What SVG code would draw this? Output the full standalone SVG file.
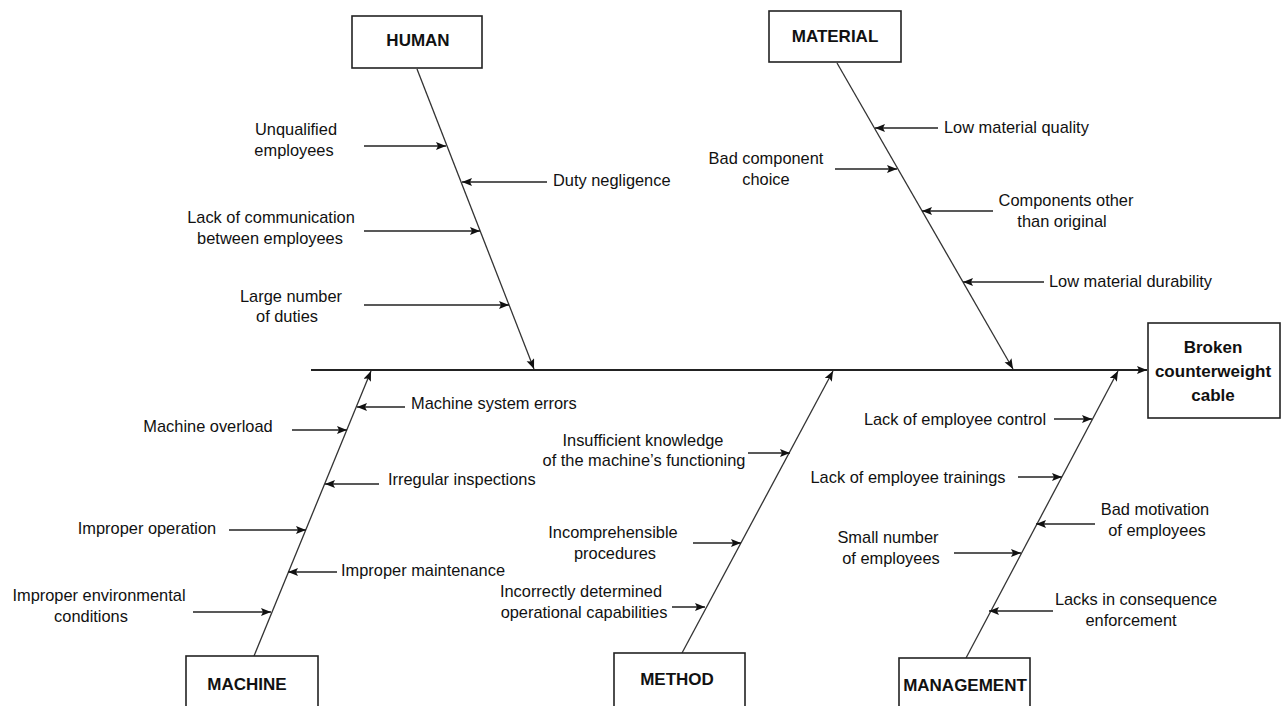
<svg xmlns="http://www.w3.org/2000/svg" width="1283" height="706" viewBox="0 0 1283 706">
<style>
.box{fill:#fff;stroke:#222;stroke-width:1.6}
.hd{font-family:"Liberation Sans",Arial,sans-serif;font-weight:bold;font-size:17px;fill:#111;text-anchor:middle}
.lb{font-family:"Liberation Sans",Arial,sans-serif;font-size:16.4px;fill:#111}
.m{text-anchor:middle}
.bone{stroke:#333;stroke-width:1.3;fill:none}
.spine{stroke:#222;stroke-width:2;fill:none}
.ar{stroke:#222;stroke-width:1.6;fill:none;marker-end:url(#ah)}
.bn{marker-end:url(#ah)}
</style>
<defs>
<marker id="ah" markerUnits="userSpaceOnUse" markerWidth="11" markerHeight="9" refX="10" refY="4" orient="auto">
<path d="M0,0 L10,4 L0,8 L2,4 Z" fill="#111"/>
</marker>
</defs>
<rect width="1283" height="706" fill="#fff"/>
<g id="connectors">
<line class="spine bn" x1="311" y1="370" x2="1147" y2="370"/>
<line class="bone bn" x1="417" y1="69" x2="534" y2="369"/>
<line class="bone bn" x1="837" y1="63" x2="1013" y2="369"/>
<line class="bone bn" x1="254" y1="656" x2="371" y2="371"/>
<line class="bone bn" x1="682" y1="653" x2="833" y2="371"/>
<line class="bone bn" x1="966" y1="658" x2="1118" y2="371"/>
<line class="ar" x1="364" y1="146" x2="446" y2="146"/>
<line class="ar" x1="547" y1="182" x2="462" y2="182"/>
<line class="ar" x1="364" y1="231" x2="480" y2="231"/>
<line class="ar" x1="364" y1="305" x2="509" y2="305"/>
<line class="ar" x1="938" y1="128" x2="875" y2="128"/>
<line class="ar" x1="835" y1="169" x2="897" y2="169"/>
<line class="ar" x1="993" y1="211" x2="922" y2="211"/>
<line class="ar" x1="1044" y1="282" x2="963" y2="282"/>
<line class="ar" x1="405" y1="407" x2="357" y2="407"/>
<line class="ar" x1="292" y1="430" x2="347" y2="430"/>
<line class="ar" x1="379" y1="484" x2="325" y2="484"/>
<line class="ar" x1="229" y1="530" x2="306" y2="530"/>
<line class="ar" x1="337" y1="572" x2="288" y2="572"/>
<line class="ar" x1="193" y1="612" x2="271" y2="612"/>
<line class="ar" x1="748" y1="453" x2="790" y2="453"/>
<line class="ar" x1="693" y1="543" x2="741" y2="543"/>
<line class="ar" x1="672" y1="607" x2="705" y2="607"/>
<line class="ar" x1="1054" y1="419" x2="1092" y2="419"/>
<line class="ar" x1="1018" y1="477" x2="1062" y2="477"/>
<line class="ar" x1="1095" y1="524" x2="1036" y2="524"/>
<line class="ar" x1="954" y1="553" x2="1021" y2="553"/>
<line class="ar" x1="1053" y1="611" x2="989" y2="611"/>
</g>
<g id="human">
<rect class="box" x="352" y="16" width="130" height="52"/>
<text class="hd" x="418" y="46">HUMAN</text>
</g>
<g id="material">
<rect class="box" x="769" y="11" width="132" height="51"/>
<text class="hd" x="835" y="42">MATERIAL</text>
</g>
<g id="machine">
<rect class="box" x="186" y="656" width="132" height="70"/>
<text class="hd" x="247" y="690">MACHINE</text>
</g>
<g id="method">
<rect class="box" x="614" y="653" width="131" height="73"/>
<text class="hd" x="677" y="685">METHOD</text>
</g>
<g id="management">
<rect class="box" x="899" y="658" width="131" height="68"/>
<text class="hd" x="965" y="691">MANAGEMENT</text>
</g>
<g id="effect">
<rect class="box" x="1148" y="323" width="132" height="95"/>
<text class="hd" x="1213" y="353">Broken</text>
<text class="hd" x="1213" y="377">counterweight</text>
<text class="hd" x="1213" y="401">cable</text>
</g>
<g id="human-causes">
<text class="lb m" x="296" y="135">Unqualified</text>
<text class="lb m" x="294" y="156">employees</text>
<text class="lb" x="553" y="186">Duty negligence</text>
<text class="lb m" x="271" y="223">Lack of communication</text>
<text class="lb m" x="270" y="244">between employees</text>
<text class="lb m" x="291" y="302">Large number</text>
<text class="lb m" x="287" y="322">of duties</text>
</g>
<g id="material-causes">
<text class="lb" x="944" y="133">Low material quality</text>
<text class="lb m" x="766" y="164">Bad component</text>
<text class="lb m" x="766" y="185">choice</text>
<text class="lb m" x="1066" y="206">Components other</text>
<text class="lb m" x="1062" y="227">than original</text>
<text class="lb" x="1049" y="287">Low material durability</text>
</g>
<g id="machine-causes">
<text class="lb" x="411" y="409">Machine system errors</text>
<text class="lb m" x="208" y="432">Machine overload</text>
<text class="lb" x="388" y="485">Irregular inspections</text>
<text class="lb m" x="147" y="534">Improper operation</text>
<text class="lb" x="341" y="576">Improper maintenance</text>
<text class="lb m" x="99" y="601">Improper environmental</text>
<text class="lb m" x="91" y="622">conditions</text>
</g>
<g id="method-causes">
<text class="lb m" x="643" y="446">Insufficient knowledge</text>
<text class="lb m" x="644" y="466">of the machine’s functioning</text>
<text class="lb m" x="613" y="538">Incomprehensible</text>
<text class="lb m" x="615" y="559">procedures</text>
<text class="lb m" x="581" y="597">Incorrectly determined</text>
<text class="lb m" x="584" y="618">operational capabilities</text>
</g>
<g id="management-causes">
<text class="lb m" x="955" y="425">Lack of employee control</text>
<text class="lb m" x="908" y="483">Lack of employee trainings</text>
<text class="lb m" x="1155" y="515">Bad motivation</text>
<text class="lb m" x="1157" y="536">of employees</text>
<text class="lb m" x="888" y="543">Small number</text>
<text class="lb m" x="891" y="564">of employees</text>
<text class="lb m" x="1136" y="605">Lacks in consequence</text>
<text class="lb m" x="1131" y="626">enforcement</text>
</g>
</svg>
